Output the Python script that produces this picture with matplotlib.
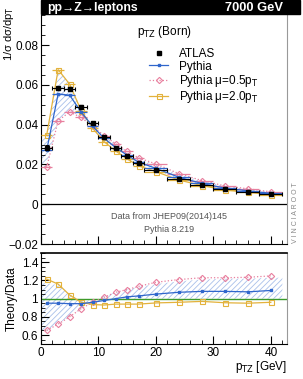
import matplotlib
matplotlib.use("Agg")
import matplotlib.pyplot as plt
import numpy as np
from matplotlib.ticker import MultipleLocator, FixedLocator
from matplotlib.lines import Line2D

plt.rcParams['font.family'] = ['Liberation Sans', 'DejaVu Sans']
plt.rcParams['hatch.linewidth'] = 0.6

# ---- data ----
bin_edges = [0, 2, 4, 6, 8, 10, 12, 14, 16, 18, 22, 26, 30, 34, 38, 42]
pt = [1, 3, 5, 7, 9, 11, 13, 15, 17, 20, 24, 28, 32, 36, 40]
atlas = [0.0285, 0.0583, 0.0580, 0.0490, 0.0408, 0.0338, 0.0285, 0.0242,
         0.0205, 0.0172, 0.0127, 0.0097, 0.0075, 0.0063, 0.0050]
atlas_err = [0.0012, 0.0008, 0.0008, 0.0007, 0.0006, 0.0005, 0.0004, 0.0004,
             0.0003, 0.0003, 0.0002, 0.0002, 0.0002, 0.0001, 0.0001]
ratio_pythia = [0.95, 0.95, 0.945, 0.945, 0.96, 0.98, 1.00, 1.02, 1.03, 1.05,
                1.07, 1.08, 1.08, 1.075, 1.09]
ratio_mu05 = [0.65, 0.72, 0.80, 0.89, 0.96, 1.015, 1.07, 1.10, 1.135, 1.18,
              1.21, 1.23, 1.23, 1.235, 1.25]
ratio_mu20 = [1.215, 1.16, 1.04, 0.96, 0.935, 0.93, 0.94, 0.94, 0.94, 0.953,
              0.96, 0.97, 0.955, 0.95, 0.96]
band_hi = [1.17, 1.15, 1.05, 0.98, 0.98, 1.03, 1.07, 1.10, 1.13, 1.16,
           1.19, 1.21, 1.22, 1.22, 1.23]
band_lo = [0.65, 0.72, 0.81, 0.89, 0.95, 0.99, 1.00, 1.00, 1.00, 1.00,
           1.00, 1.00, 1.00, 1.00, 1.00]

title_left = "pp→Z→leptons"
title_right = "7000 GeV"

# ---- derived ----
edges = np.array(bin_edges, float)
x = np.array(pt, float)
xerr = [x - edges[:-1], edges[1:] - x]
data = np.array(atlas)
r_py = np.array(ratio_pythia)
r_05 = np.array(ratio_mu05)
r_20 = np.array(ratio_mu20)
bhi = np.array(band_hi)
blo = np.array(band_lo)

c_blue = '#2f66cc'
c_pink = '#e8809f'
c_yel = '#e3b23c'
c_band = '#a9c0ea'

fig = plt.figure(figsize=(3.03, 3.79), dpi=100)
ax = fig.add_axes([0.135, 0.356, 0.812, 0.604])
axr = fig.add_axes([0.135, 0.092, 0.812, 0.240])

xmin, xmax = 0, 42.8
fs = 8.5

def band(a, lo, hi):
    bx = np.concatenate([[edges[0]], x, [edges[-1]]])
    blo_ = np.concatenate([[lo[0]], lo, [lo[-1]]])
    bhi_ = np.concatenate([[hi[0]], hi, [hi[-1]]])
    a.fill_between(bx, blo_, bhi_, facecolor='none', edgecolor=c_band,
                   hatch='//////', linewidth=0, zorder=1)

sty_05 = dict(color=c_pink, ls=':', lw=0.9, marker='D', ms=3.2,
              mfc='none', mec=c_pink, mew=0.8)
sty_20 = dict(color=c_yel, ls='-', lw=0.9, marker='s', ms=3.6,
              mfc='none', mec=c_yel, mew=0.8)
sty_py = dict(color=c_blue, ls='-', lw=0.9, marker='s', ms=1.8)

# main panel
band(ax, blo * data, bhi * data)
ax.axhline(0, color='black', lw=0.9, zorder=2)
ax.errorbar(x, r_05 * data, xerr=xerr, zorder=3, **sty_05)
ax.errorbar(x, r_20 * data, xerr=xerr, zorder=3, **sty_20)
ax.errorbar(x, r_py * data, xerr=xerr, zorder=4, **sty_py)
ax.errorbar(x, data, xerr=xerr, yerr=atlas_err, color='black', ls='none',
            lw=0.8, marker='s', ms=3.2, capsize=1.5, capthick=0.8, zorder=5)

ax.set_xlim(xmin, xmax)
ax.set_ylim(-0.02, 0.095)
ax.yaxis.set_major_locator(FixedLocator([-0.02, 0, 0.02, 0.04, 0.06, 0.08]))
ax.yaxis.set_minor_locator(MultipleLocator(0.005))
ax.set_yticklabels(['−0.02', '0', '0.02', '0.04', '0.06', '0.08'])
ax.xaxis.set_major_locator(MultipleLocator(10))
ax.xaxis.set_minor_locator(MultipleLocator(2))
ax.tick_params(axis='both', which='both', direction='in', top=False,
               right=False, labelsize=fs)
ax.tick_params(axis='y', which='major', pad=2)
ax.tick_params(axis='x', labelbottom=False)
ax.tick_params(which='major', length=6, width=0.8)
ax.tick_params(which='minor', length=3, width=0.6)
ax.set_ylabel('1/σ dσ/dp$_\\mathrm{T}$', fontsize=8, ha='right')
ax.yaxis.set_label_coords(-0.100, 1.04)
ax.spines['top'].set_visible(False)
ax.spines['right'].set_color('#999999')

handles = [Line2D([], [], color='black', ls='none', marker='s', ms=3.2),
           Line2D([], [], **sty_py), Line2D([], [], **sty_05),
           Line2D([], [], **sty_20)]
labels = ['ATLAS', 'Pythia', 'Pythia μ=0.5p$_\\mathrm{T}$',
          'Pythia μ=2.0p$_\\mathrm{T}$']
ax.legend(handles, labels, loc='upper left', bbox_to_anchor=(0.44, 0.855),
          frameon=False, fontsize=fs, handlelength=1.6, handletextpad=0.9,
          labelspacing=0.02, borderaxespad=0, borderpad=0)
ax.text(0.39, 0.96, 'p$_\\mathrm{TZ}$ (Born)', transform=ax.transAxes,
        fontsize=fs, va='top', ha='left')
ax.text(0.52, 0.12, 'Data from JHEP09(2014)145', transform=ax.transAxes,
        fontsize=6.5, color='#555555', ha='center', va='center')
ax.text(0.52, 0.065, 'Pythia 8.219', transform=ax.transAxes,
        fontsize=6.5, color='#555555', ha='center', va='center')

# title bar
fig.patches.append(plt.Rectangle((0.135, 0.962), 0.99 - 0.135, 0.038,
                                 transform=fig.transFigure, color='black',
                                 zorder=0))
fig.text(0.155, 0.980, title_left, color='white', fontsize=8.8,
         fontweight='bold', va='center', ha='left')
fig.text(0.935, 0.980, title_right, color='white', fontsize=9.3,
         fontweight='bold', va='center', ha='right')

fig.text(0.975, 0.44, 'V I N C I A R O O T', rotation=90, fontsize=5,
         color='#888888', ha='center', va='center')

# ratio panel
band(axr, blo, bhi)
axr.axhline(1.0, color='#3a9a2a', lw=1.0, zorder=2)
axr.plot(x, r_05, zorder=3, **sty_05)
axr.plot(x, r_20, zorder=3, **sty_20)
axr.plot(x, r_py, zorder=4, **sty_py)
axr.set_xlim(xmin, xmax)
axr.set_ylim(0.5, 1.5)
axr.yaxis.set_major_locator(FixedLocator([0.6, 0.8, 1.0, 1.2, 1.4]))
axr.set_yticklabels(['0.6', '0.8', '1', '1.2', '1.4'])
axr.yaxis.set_minor_locator(MultipleLocator(0.05))
axr.xaxis.set_major_locator(MultipleLocator(10))
axr.xaxis.set_minor_locator(MultipleLocator(2))
axr.tick_params(axis='both', which='both', direction='in', top=False,
                right=False, labelsize=fs)
axr.tick_params(axis='y', which='major', pad=2)
axr.tick_params(which='major', length=6, width=0.8)
axr.tick_params(which='minor', length=3, width=0.6)
axr.tick_params(axis='x', which='major', pad=2)
axr.set_ylabel('Theory/Data', fontsize=fs, labelpad=3)
axr.set_xlabel('p$_\\mathrm{TZ}$ [GeV]', fontsize=fs, loc='right', labelpad=0)
axr.spines['top'].set_linewidth(1.2)
axr.spines['right'].set_color('#999999')

fig.savefig('out.png', dpi=100)
